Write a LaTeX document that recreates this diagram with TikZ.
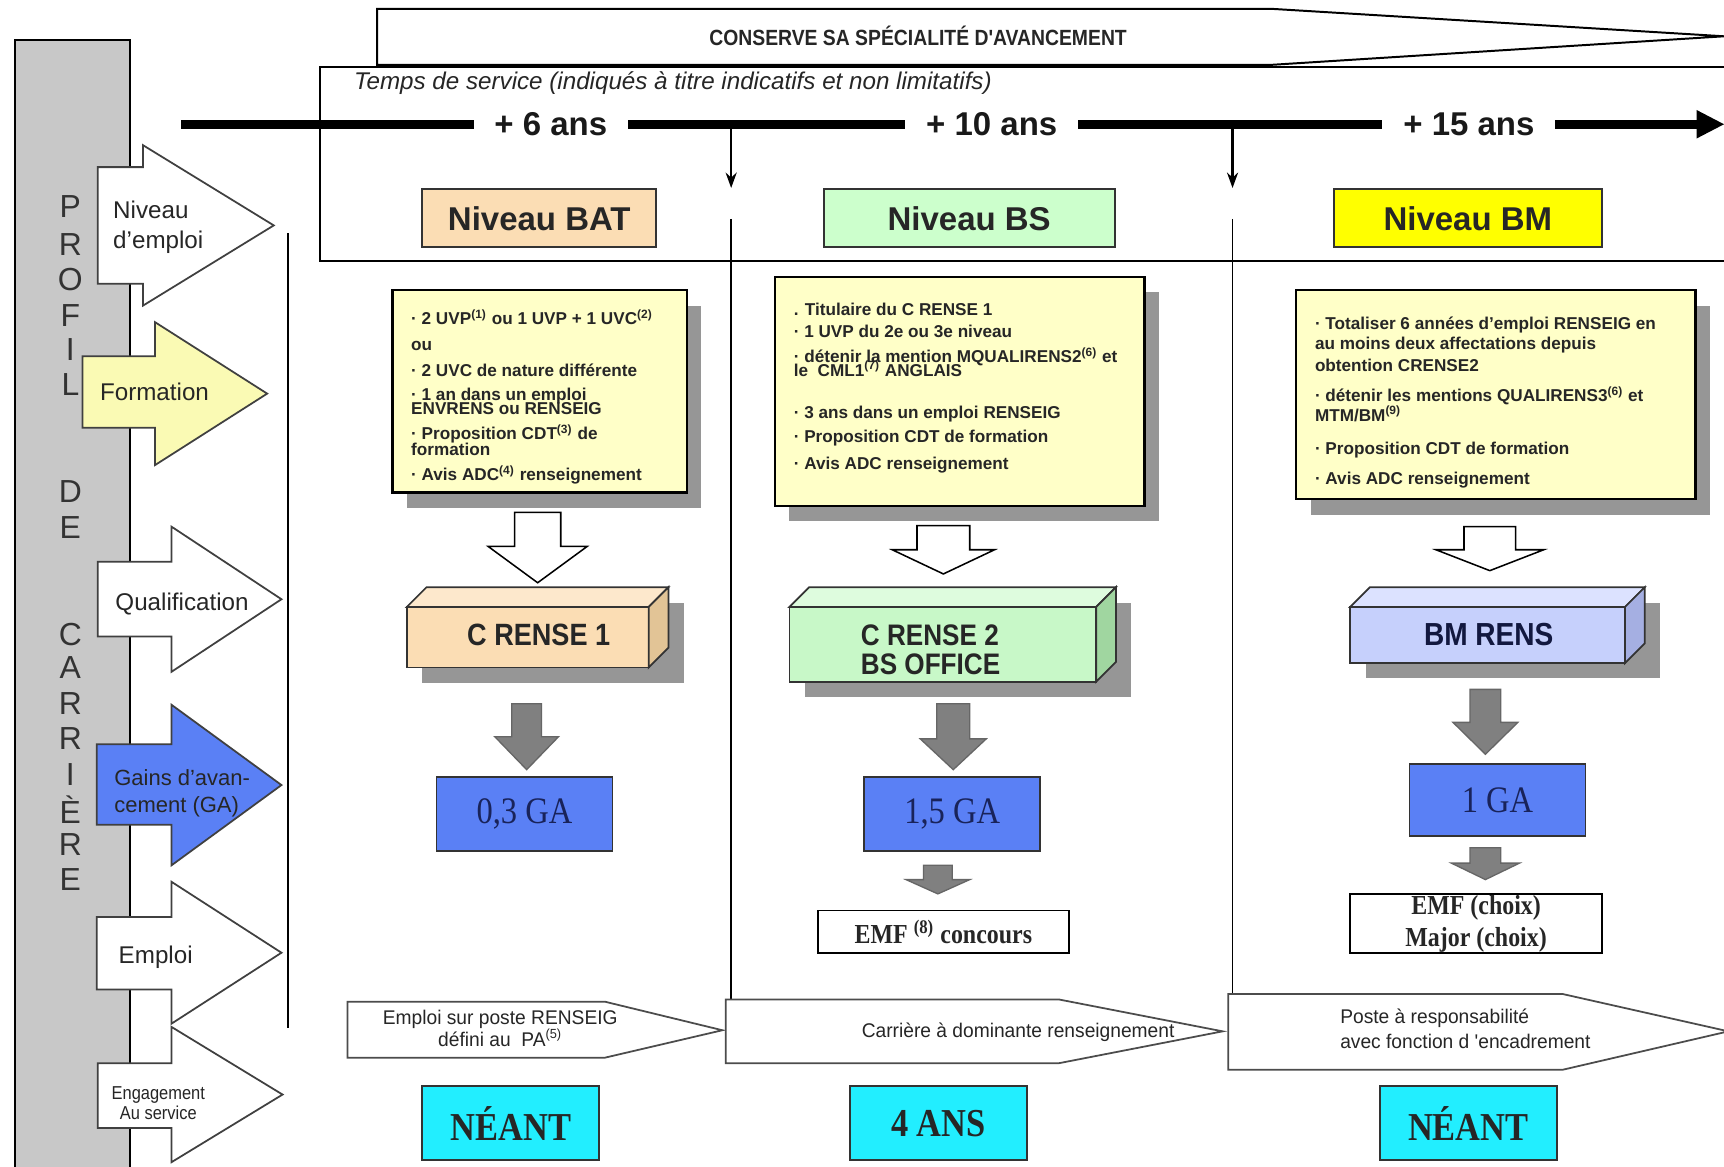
\documentclass[tikz,border=0pt]{standalone}
\usepackage{fontspec}
\setmainfont{Liberation Sans}
\newfontfamily\nsans[FakeStretch=0.88]{Liberation Sans}
\newfontfamily\msans[FakeStretch=0.97]{Liberation Sans}
\newfontfamily\rserif{Liberation Serif}
\newfontfamily\nserif[FakeStretch=0.87]{Liberation Serif}
\usetikzlibrary{shadows,arrows.meta}
\pgfdeclarelayer{bg}
\pgfsetlayers{bg,main}
\definecolor{peach}{RGB}{251,221,180}
\definecolor{peachtop}{RGB}{253,232,204}
\definecolor{peachside}{RGB}{226,196,150}
\definecolor{lgreen}{RGB}{204,255,204}
\definecolor{cgreen}{RGB}{200,248,200}
\definecolor{cgreentop}{RGB}{222,252,222}
\definecolor{cgreenside}{RGB}{160,214,160}
\definecolor{bmyel}{RGB}{255,255,0}
\definecolor{lav}{RGB}{198,208,252}
\definecolor{lavtop}{RGB}{220,226,255}
\definecolor{lavside}{RGB}{165,175,226}
\definecolor{noteyel}{RGB}{255,255,200}
\definecolor{gablue}{RGB}{90,128,245}
\definecolor{navytxt}{RGB}{25,35,90}
\definecolor{cyanc}{RGB}{34,238,255}
\definecolor{barg}{RGB}{200,200,200}
\definecolor{arrgrey}{RGB}{128,128,128}
\definecolor{shadowc}{RGB}{150,150,150}
\definecolor{formyel}{RGB}{250,250,180}
\newcommand\fz[2]{\fontsize{#1pt}{#2pt}\selectfont}
\newcommand\dnarrow[7]{\draw[#1] ({#2-#5/2},#3) -- ({#2+#5/2},#3) -- ({#2+#5/2},{#4-#7}) -- ({#2+#6/2},{#4-#7}) -- (#2,#4) -- ({#2-#6/2},{#4-#7}) -- ({#2-#5/2},{#4-#7}) -- cycle;}
\newcommand\rtarrow[8]{\draw[#1] (#2,#3) -- (#5,#3) -- (#5,#6) -- (#8,{(#6+#7)/2}) -- (#5,#7) -- (#5,#4) -- (#2,#4) -- cycle;}
\newcommand\cubfaces[3]{%
  \draw[cub, fill=#2] (#1.north west) -- ([shift={(18,-18)}]#1.north west) -- ([shift={(18,-18)}]#1.north east) -- (#1.north east) -- cycle;
  \draw[cub, fill=#3] (#1.north east) -- ([shift={(18,-18)}]#1.north east) -- ([shift={(18,-18)}]#1.south east) -- (#1.south east) -- cycle;
  \begin{pgfonlayer}{bg}\fill[shadowc] ([shift={(14,14)}]#1.south west) rectangle ([shift={(32,-4)}]#1.north east);\end{pgfonlayer}}
\begin{document}
\begin{tikzpicture}[x=0.5pt,y=-0.5pt,
  every node/.style={inner sep=0pt, outer sep=0pt},
  lvl/.style={draw=black!80, line width=0.9pt, minimum height=26.5pt, font=\bfseries\fz{15}{18}, text=black!85},
  note/.style={draw=black, line width=1pt, fill=noteyel, drop shadow={shadow xshift=6.5pt, shadow yshift=-7pt, opacity=1, fill=shadowc}},
  ntxt/.style={anchor=base west, font=\bfseries\fz{7.8}{9}, text=black!85},
  gabox/.style={draw=black!80, line width=0.8pt, fill=gablue, font=\nserif\fz{17}{19}, text=navytxt},
  cyanbox/.style={draw=black!80, line width=0.8pt, fill=cyanc, font=\nserif\bfseries\fz{18}{20}, text=black!85},
  emfbox/.style={draw=black, line width=0.8pt, fill=white, font=\nserif\bfseries\fz{12.5}{14}, align=center, text=black!85},
  chev/.style={draw=black!70, line width=0.8pt, fill=white},
  ctxt/.style={anchor=base, font=\msans\fz{9}{11}, text=black!85},
  hollow/.style={draw=black, line width=0.7pt, fill=white},
  greyarr/.style={draw=black!60, line width=0.6pt, fill=arrgrey},
  sidearr/.style={draw=black!75, line width=0.8pt},
  stxt/.style={anchor=base west, font=\fz{11}{13}, text=black!85},
  bigl/.style={font=\fz{14.5}{16}, text=black!80},
  cub/.style={draw=black!80, line width=0.8pt},
  tlab/.style={fill=white, inner xsep=9.5pt, inner ysep=3pt, font=\bfseries\fz{15}{17}, text=black!90},
]
\useasboundingbox (0,0) rectangle (1568,1061);
\begin{pgfonlayer}{bg}
\fill[white] (0,0) rectangle (1568,1061);
\end{pgfonlayer}

% ---- left profile bar
\draw[line width=0.9pt, fill=barg] (14,36) rectangle (118,1075);
\foreach \yy/\ch [count=\i] in {188/P,222/R,254/O,287/F,318/I,350/L,447/D,480/E,577/C,607/A,640/R,672/R,704/I,736/È,768/R,800/E}
  \node[bigl] (lt\i) at (64,\yy) {\ch};
\draw[line width=0.8pt] (262,212) -- (262,935);

\rtarrow{sidearr, fill=white}{89}{152}{258}{130}{132}{278}{249}
\rtarrow{sidearr, fill=formyel}{75}{324}{389}{141}{293}{423}{243}
\rtarrow{sidearr, fill=white}{89}{511}{579}{156}{479}{611}{256}
\rtarrow{sidearr, fill=gablue}{88}{677}{750}{156}{641}{787}{256}
\rtarrow{sidearr, fill=white}{88}{834}{900}{156}{802}{931}{256}
\rtarrow{sidearr, fill=white}{89}{967}{1026}{156}{934}{1057}{257}

\node[stxt] (s1a) at (103,199) {Niveau};
\node[stxt] (s1b) at (103,226) {d'emploi};
\node[stxt] (s2) at (91,364) {Formation};
\node[stxt] (s3) at (105,555) {Qualification};
\node[stxt, font=\fz{10}{12}] (s4a) at (104,714) {Gains d'avan-};
\node[stxt, font=\fz{10}{12}] (s4b) at (104,739) {cement (GA)};
\node[stxt] (s5) at (108,876) {Emploi};
\node[anchor=base, font=\nsans\fz{8.5}{10}, text=black!85] (s6a) at (144,1000) {Engagement};
\node[anchor=base, font=\nsans\fz{8.5}{10}, text=black!85] (s6b) at (144,1018) {Au service};

% ---- top strip and time box
\draw[line width=0.9pt, fill=white] (343,59) -- (343,8) -- (1156,8) -- (1568,33) -- (1156,59) -- cycle;
\node[font=\nsans\bfseries\fz{10}{12}, text=black!85] (cons) at (835,33) {CONSERVE SA SPÉCIALITÉ D'AVANCEMENT};
\draw[line width=0.9pt] (1575,61) -- (291,61) -- (291,237) -- (1575,237);
\node[anchor=west, font=\itshape\fz{11}{13}, text=black!85] (temps) at (322,76) {Temps de service (indiqués à titre indicatifs et non limitatifs)};

% ---- timeline
\coordinate (tl0) at (165,113);
\coordinate (tl1) at (1546,113);
\draw[line width=4pt] (tl0) -- (tl1);
\fill (1543,100) -- (1568,113) -- (1543,126) -- cycle;
\node[tlab] (y6) at (501,113) {+ 6 ans};
\node[tlab] (y10) at (902,113) {+ 10 ans};
\node[tlab] (y15) at (1336,113) {+ 15 ans};
\coordinate (d1) at (665,113);
\coordinate (d1e) at (665,171);
\coordinate (d2) at (1121,113);
\coordinate (d2e) at (1121,171);
\draw[line width=1.2pt, -{Stealth[length=7pt,width=5pt]}] (d1) -- (d1e);
\draw[line width=1.2pt, -{Stealth[length=7pt,width=5pt]}] (d2) -- (d2e);
\draw[line width=0.8pt] (665,199) -- (665,909);
\draw[line width=0.8pt] (1121,199) -- (1121,905);

% ---- levels
\node[lvl, fill=peach, minimum width=106.5pt] (bat) at (490.5,198.5) {Niveau BAT};
\node[lvl, fill=lgreen, minimum width=132.5pt] (bs) at (881.5,198.5) {Niveau BS};
\node[lvl, fill=bmyel, minimum width=122pt] (bm) at (1335,198.5) {Niveau BM};

% ---- notes
\node[note, minimum width=134pt, minimum height=92pt] (note1) at (491,356) {};
\node[note, minimum width=168pt, minimum height=104pt] (note2) at (873,356) {};
\node[note, minimum width=181.5pt, minimum height=95pt] (note3) at (1360.5,359) {};
\foreach \yy/\lbl [count=\i] in {
  295/{· 2 UVP\textsuperscript{(1)} ou 1 UVP + 1 UVC\textsuperscript{(2)}},
  319/{ou},
  342/{· 2 UVC de nature différente},
  364/{· 1 an dans un emploi},
  377/{ENVRENS ou RENSEIG},
  400/{· Proposition CDT\textsuperscript{(3)} de},
  414/{formation},
  437/{· Avis ADC\textsuperscript{(4)} renseignement}}
  \node[ntxt] (na\i) at (374,\yy) {\lbl};
\foreach \yy/\lbl [count=\i] in {
  287/{. Titulaire du C RENSE 1},
  307/{· 1 UVP du 2e ou 3e niveau},
  330/{· détenir la mention MQUALIRENS2\textsuperscript{(6)} et},
  342/{le~ CML1\textsuperscript{(7)} ANGLAIS},
  381/{· 3 ans dans un emploi RENSEIG},
  402/{· Proposition CDT de formation},
  427/{· Avis ADC renseignement}}
  \node[ntxt] (nb\i) at (722,\yy) {\lbl};
\foreach \yy/\lbl [count=\i] in {
  300/{· Totaliser 6 années d'emploi RENSEIG en},
  318/{au moins deux affectations depuis},
  338/{obtention CRENSE2},
  365/{· détenir les mentions QUALIRENS3\textsuperscript{(6)} et},
  383/{MTM\slash BM\textsuperscript{(9)}},
  413/{· Proposition CDT de formation},
  441/{· Avis ADC renseignement}}
  \node[ntxt] (nc\i) at (1196,\yy) {\lbl};

% ---- hollow arrows
\dnarrow{hollow}{489}{466}{530}{42}{90}{33}
\dnarrow{hollow}{858}{478}{522}{48}{93}{22}
\dnarrow{hollow}{1355}{479}{519}{47}{98}{19}

% ---- cuboids
\node[cub, fill=peach, minimum width=110pt, minimum height=27.5pt] (cr1) at (480,579.5) {};
\cubfaces{cr1}{peachtop}{peachside}
\node[font=\nsans\bfseries\fz{14}{16}, text=black!85] (cr1t) at (490,577) {C RENSE 1};
\node[cub, fill=cgreen, minimum width=139.5pt, minimum height=34pt] (cr2) at (857.5,586) {};
\cubfaces{cr2}{cgreentop}{cgreenside}
\node[anchor=west, align=left, font=\nsans\bfseries\fz{13.5}{13.5}, text=black!85] (cr2t) at (783,591) {C RENSE 2\\BS OFFICE};
\node[cub, fill=lav, minimum width=125pt, minimum height=25.5pt] (bmr) at (1353,577.5) {};
\cubfaces{bmr}{lavtop}{lavside}
\node[font=\nsans\bfseries\fz{14.5}{16}, text=navytxt!70!black] (bmrt) at (1354,577) {BM RENS};

% ---- grey arrows
\dnarrow{greyarr}{479}{640}{700}{27}{58}{30}
\dnarrow{greyarr}{867}{640}{700}{30}{60}{28}
\dnarrow{greyarr}{1351}{627}{686}{28}{59}{29}
\dnarrow{greyarr}{853}{787}{813}{26}{58}{13}
\dnarrow{greyarr}{1351}{771}{800}{28}{62}{15}

% ---- GA boxes
\node[gabox, minimum width=80pt, minimum height=33.5pt] (ga1) at (477,740.5) {0,3 GA};
\node[gabox, minimum width=80pt, minimum height=33.5pt] (ga2) at (866,740.5) {1,5 GA};
\node[gabox, minimum width=80pt, minimum height=32.5pt] (ga3) at (1362,727.5) {1 GA};

% ---- EMF boxes
\node[emfbox, minimum width=114pt, minimum height=19.5pt] (emf1) at (858,847.5) {EMF \textsuperscript{(8)} concours};
\node[emfbox, minimum width=114.5pt, minimum height=27pt] (emf2) at (1342.5,840) {EMF (choix)\\[0.5pt]Major (choix)};

% ---- bottom chevrons
\draw[chev] (316,911) -- (550,911) -- (657,937) -- (550,962) -- (316,962) -- cycle;
\draw[chev] (660,909) -- (963,909) -- (1112,938) -- (963,967) -- (660,967) -- cycle;
\draw[chev] (1117,904) -- (1421,904) -- (1572,938) -- (1421,973) -- (1117,973) -- cycle;
\node[ctxt] (c1a) at (455,932) {Emploi sur poste RENSEIG};
\node[ctxt] (c1b) at (455,952) {défini au~ PA\textsuperscript{(5)}};
\node[ctxt] (c2) at (926,944) {Carrière à dominante renseignement};
\node[ctxt, anchor=base west] (c3a) at (1219,931) {Poste à responsabilité};
\node[ctxt, anchor=base west] (c3b) at (1219,954) {avec fonction d 'encadrement};

% ---- cyan boxes
\node[cyanbox, minimum width=80.5pt, minimum height=33.5pt] (ne1) at (464.5,1021.5) {NÉANT};
\node[cyanbox, minimum width=80.5pt, minimum height=33.5pt] (ans4) at (853.5,1021.5) {4 ANS};
\node[cyanbox, minimum width=80.5pt, minimum height=33.5pt] (ne3) at (1335.5,1021.5) {NÉANT};
\end{tikzpicture}
\end{document}
